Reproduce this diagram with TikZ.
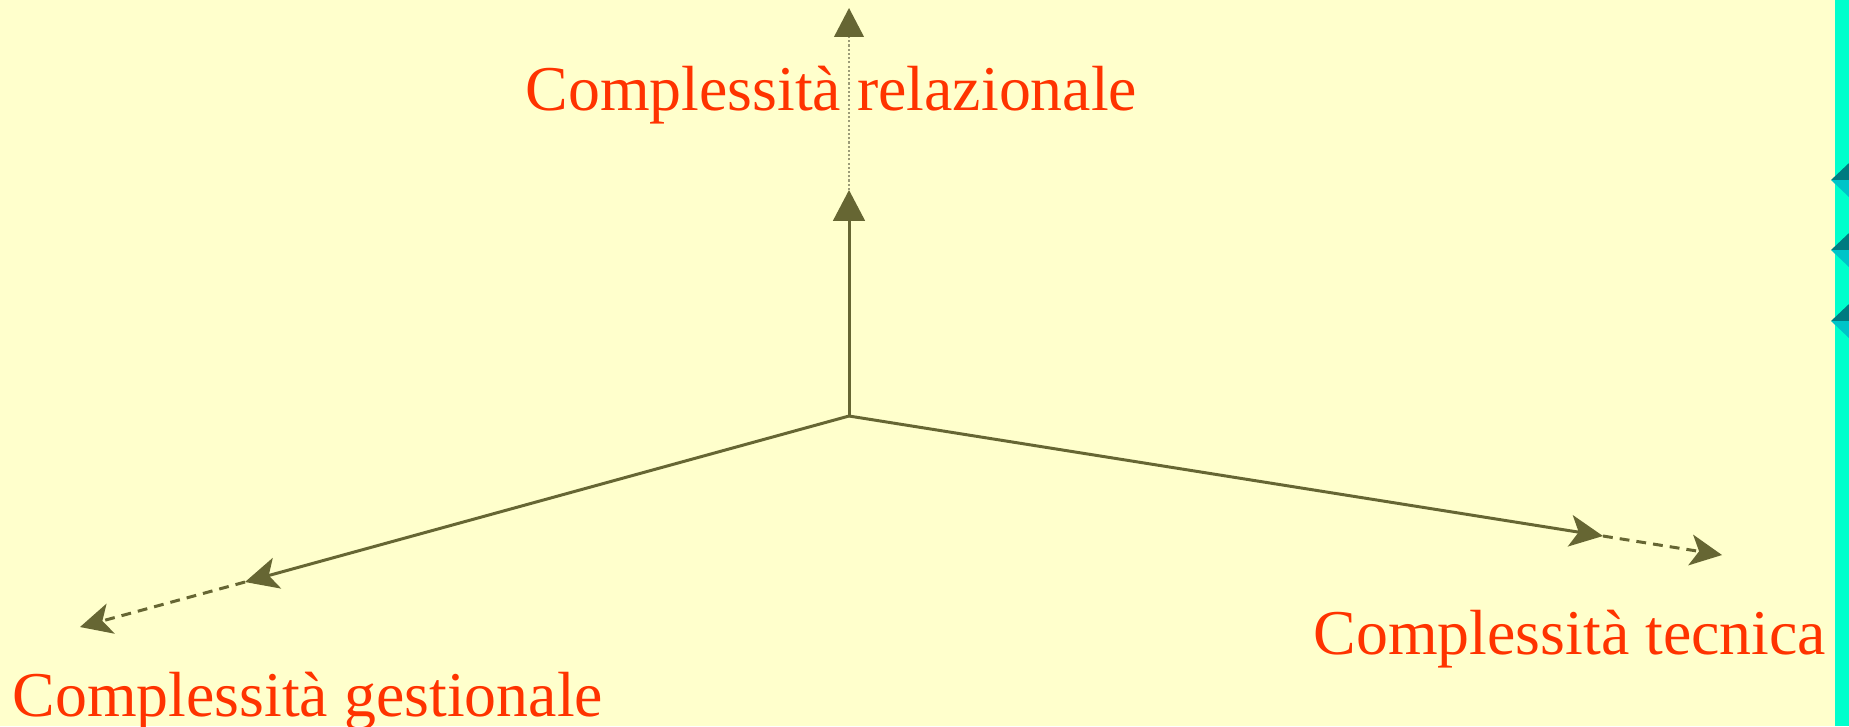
\documentclass[tikz,border=0pt]{standalone}
\usepackage{fontspec}
\usepackage{tikz}
\usetikzlibrary{arrows.meta,positioning}
\newfontfamily\labelfont{Liberation Serif}
\definecolor{paper}{HTML}{FFFFCC}
\definecolor{axisink}{HTML}{666633}
\definecolor{axisgray}{HTML}{9C9C78}
\definecolor{labelred}{HTML}{FF3300}
\definecolor{barcyan}{HTML}{00FFCC}
\definecolor{tabdark}{HTML}{007A80}
\definecolor{tablight}{HTML}{00C4C8}
\tikzset{
  axisarr/.style={-{Stealth[length=9.4pt,width=9pt,inset=2.4pt]},line width=0.85pt,color=axisink},
  uparr/.style={-{Triangle[length=8.8pt,width=9pt]},line width=0.85pt,color=axisink},
  dasharr/.style={-{Stealth[length=9pt,width=8.8pt,inset=2.4pt]},line width=0.85pt,color=axisink,
                  dash pattern=on 2.8pt off 2pt},
  dotarr/.style={-{Triangle[length=8.2pt,width=8.4pt,color=axisink]},line width=0.55pt,color=axisgray,
                 dash pattern=on 0.6pt off 0.6pt},
  axislabel/.style={anchor=base west,inner sep=0pt,text=labelred,
                    font=\labelfont\fontsize{18.15}{22}\selectfont}
}
\begin{document}
\begin{tikzpicture}[x=0.01cm,y=-0.01cm]
  \fill[paper] (0,0) rectangle (1849,726);
  \useasboundingbox (0,0) rectangle (1849,726);
  % side bar
  \fill[barcyan] (1835,0) rectangle (1849,726);
  \foreach \ty in {180,250,321} {
    \fill[tabdark] (1831,\ty) -- (1849,\ty-17) -- (1849,\ty) -- cycle;
    \fill[tablight] (1831,\ty) -- (1849,\ty+17) -- (1849,\ty) -- cycle;
  }

  \coordinate (origin) at (849,416);
  \coordinate (relTip) at (849,190);
  \coordinate (relEnd) at (849,8);
  \coordinate (gesTip) at (245,582);
  \coordinate (gesEnd) at (80,627);
  \coordinate (tecTip) at (1603,536);
  \coordinate (tecEnd) at (1722,555);

  \node[axislabel] (rel) at (525,110) {Complessità relazionale};
  \node[axislabel] (ges) at (12,716) {Complessità gestionale};
  \node[axislabel] (tec) at (1313,654) {Complessità tecnica};

  \draw[dotarr] (relTip) -- (relEnd);
  \draw[uparr] (origin) -- (relTip);
  \draw[axisarr] (origin) -- (gesTip);
  \draw[dasharr] (gesTip) -- (gesEnd);
  \draw[axisarr] (origin) -- (tecTip);
  \draw[dasharr] (tecTip) -- (tecEnd);
\end{tikzpicture}
\end{document}
